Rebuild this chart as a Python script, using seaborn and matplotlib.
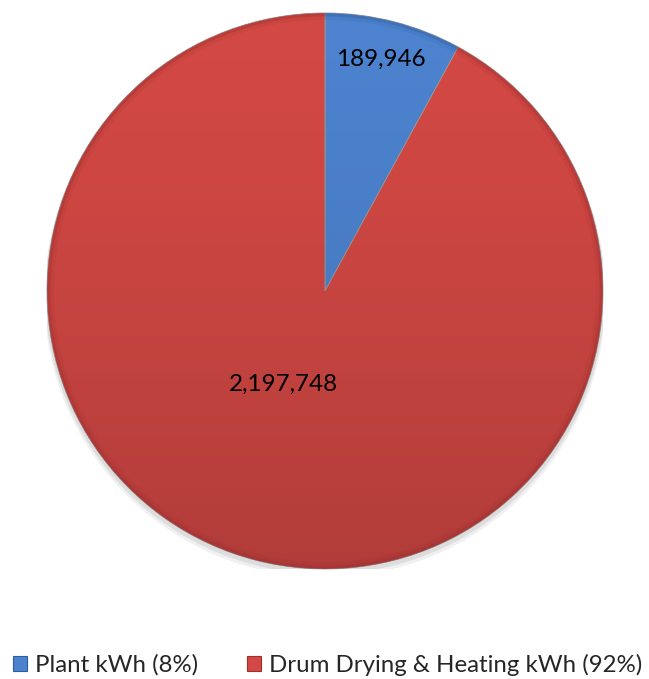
import matplotlib
matplotlib.use("Agg")
import matplotlib.pyplot as plt
import seaborn as sns
import numpy as np
from matplotlib.patches import Patch, Wedge, Circle

sns.set_theme(style="white")
plt.rcParams['font.family'] = ['Lato', 'DejaVu Sans']

categories = ["Plant kWh", "Drum Drying & Heating kWh"]
values = [189946, 2197748]
colors = ["#4C82CE", "#D24844"]
edge_colors = ["#2F5E9E", "#9E302F"]

total = sum(values)
shares = [v / total for v in values]

fig = plt.figure(figsize=(6.49, 6.79), dpi=100)
ax = fig.add_axes([0.0724, 0.162, 0.8567, 0.8189])

# faint drop shadow under the pie
for k, a in [(0.02, 0.06), (0.012, 0.08)]:
    ax.add_patch(Circle((0.0, -k), 1.0 + k / 2, facecolor="black", alpha=a,
                        edgecolor="none", zorder=0))

wedges, _ = ax.pie(values, colors=colors, startangle=90, counterclock=False,
                   radius=1.0, wedgeprops=dict(linewidth=0.6, edgecolor="#9a9a9a"))

# vertical shading: lighter at the top, darker toward the bottom
grad = np.linspace(0, 1, 256).reshape(-1, 1)
shade = np.zeros((256, 1, 4))
shade[..., 3] = (grad ** 1.5) * 0.16
for w in wedges:
    im = ax.imshow(shade, extent=(-1, 1, -1, 1), origin="upper", zorder=1.5,
                   interpolation="bilinear", aspect="auto")
    im.set_clip_path(w)

# soft darker rim along the outer edge
for w, ec in zip(wedges, edge_colors):
    for r, width, alpha in [(1.0, 0.012, 0.45), (0.988, 0.012, 0.15)]:
        ax.add_patch(Wedge((0, 0), r, w.theta1, w.theta2, width=width,
                           facecolor=ec, edgecolor="none", alpha=alpha, zorder=2))

# value labels
ax.text(0.201, 0.835, f"{values[0]:,}", ha="center", va="center", fontsize=17.5,
        color="black", zorder=3)
ax.text(-0.15, -0.335, f"{values[1]:,}", ha="center", va="center", fontsize=17.5,
        color="black", zorder=3)

ax.set_xlim(-1, 1)
ax.set_ylim(-1, 1)
ax.set_aspect("equal")
ax.axis("off")

handles = [Patch(facecolor=c, edgecolor=e, linewidth=0.8) for c, e in zip(colors, edge_colors)]
labels = [f"{c} ({round(s * 100)}%)" for c, s in zip(categories, shares)]
fig.legend(handles, labels, loc="center left", bbox_to_anchor=(13 / 649, 0.0206), ncol=2,
           frameon=False, fontsize=17.3, handlelength=0.58, handleheight=0.58,
           handletextpad=0.33, columnspacing=2.06, borderaxespad=0, borderpad=0)

fig.savefig("out.png", dpi=100, facecolor="white")
